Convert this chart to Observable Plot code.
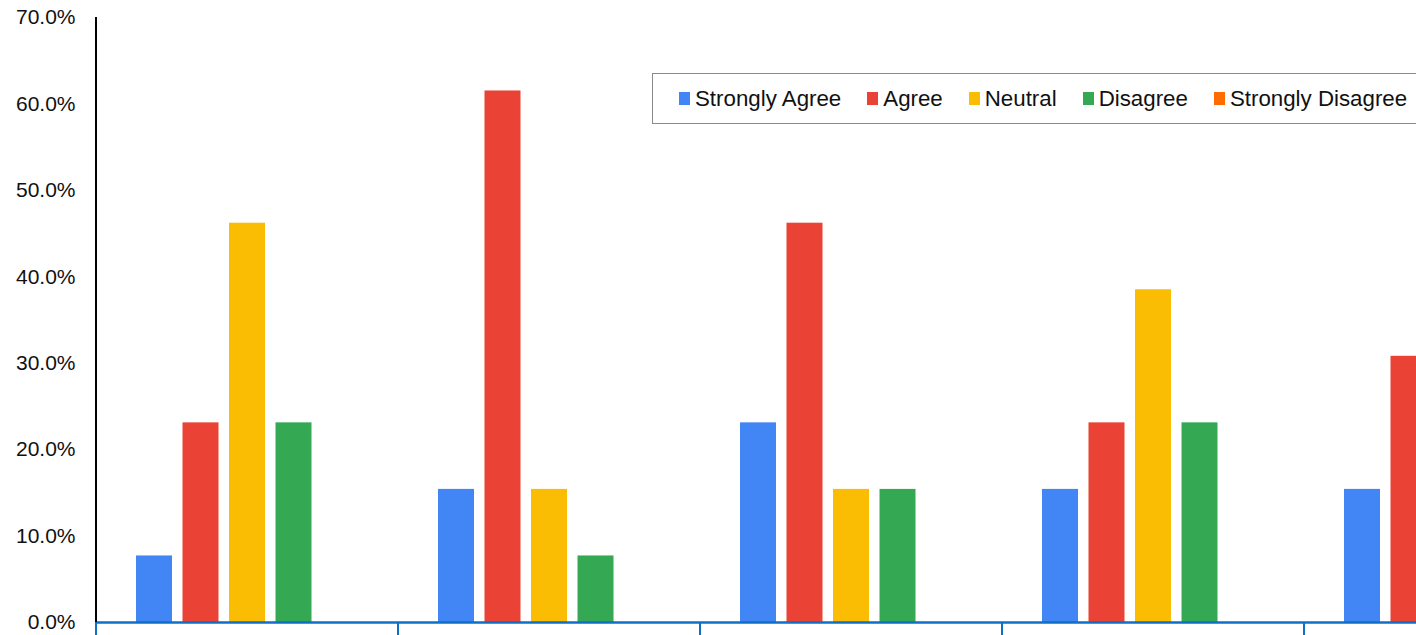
<!DOCTYPE html>
<html>
<head>
<meta charset="utf-8">
<script src="https://cdn.jsdelivr.net/npm/d3@7"></script>
<script src="https://cdn.jsdelivr.net/npm/@observablehq/plot@0.6"></script>
<style>
  html, body { margin: 0; padding: 0; background: #fff; }
  #wrap { position: relative; width: 1416px; height: 635px; overflow: hidden; font-family: "Liberation Sans", Arial, sans-serif; }
  #chart svg { max-width: none !important; display: block; }
  #legend { position: absolute; left: 652px; top: 73px; height: 51px; width: 820px; border: 1.5px solid #8a8a8a; background: #fff;
            display: flex; align-items: center; padding-left: 26px; gap: 26px; box-sizing: border-box; font-size: 22.3px; color: #111; }
  .item { display: flex; align-items: center; white-space: nowrap; }
  .sw { width: 11px; height: 13px; margin-right: 5px; display: inline-block; }
</style>
</head>
<body>
<div id="wrap"><div id="chart"></div><div id="legend"></div></div>
<script>
const categories = ["Q1", "Q2", "Q3", "Q4", "Q5"];
const responses = ["Strongly Agree", "Agree", "Neutral", "Disagree", "Strongly Disagree"];
const stronglyAgree    = [0.077, 0.154, 0.231, 0.154, 0.154];
const agree            = [0.231, 0.615, 0.462, 0.231, 0.308];
const neutral          = [0.462, 0.154, 0.154, 0.385, 0.308];
const disagree         = [0.231, 0.077, 0.154, 0.231, 0.154];
const stronglyDisagree = [0.000, 0.000, 0.000, 0.000, 0.077];
const yTicks = [0, 0.1, 0.2, 0.3, 0.4, 0.5, 0.6, 0.7];
const colors = ["#4285F4", "#EA4335", "#FBBC04", "#34A853", "#FF6D01"];

const series = [stronglyAgree, agree, neutral, disagree, stronglyDisagree];
const data = [];
categories.forEach((c, i) => responses.forEach((r, j) => data.push({category: c, response: r, value: series[j][i]})));

const plot = Plot.plot({
  width: 1606, height: 700,
  marginLeft: 96, marginRight: 0, marginTop: 17, marginBottom: 78,
  style: {fontFamily: "'Liberation Sans', Arial, sans-serif", fontSize: "21px", color: "#111", background: "transparent", maxWidth: "none"},
  fx: {domain: categories, padding: 0, axis: null, round: false},
  x: {domain: responses, paddingInner: 0.226, paddingOuter: 0.86, axis: null, round: false},
  y: {domain: [0, 0.7], axis: null},
  color: {domain: responses, range: colors},
  marks: [
    Plot.barY(data, {fx: "category", x: "response", y: "value", fill: "response"}),
    Plot.axisY({ticks: yTicks, tickFormat: d3.format(".1%"), tickSize: 0, tickPadding: 21, label: null}),
    Plot.ruleY([0], {stroke: "#0F6FC6", strokeWidth: 2.5})
  ]
});
document.getElementById("chart").appendChild(plot);

// axis lines and category boundary ticks from the plot's scales
const fx = plot.scale("fx"), y = plot.scale("y");
const svg = d3.select(plot);
const y0 = y.apply(0), yTop = y.apply(0.7);
const bounds = categories.map(c => fx.apply(c));
bounds.push(bounds[bounds.length - 1] + fx.bandwidth);
svg.append("g").selectAll("line").data(bounds).join("line")
  .attr("x1", d => d).attr("x2", d => d).attr("y1", y0).attr("y2", y0 + 30)
  .attr("stroke", "#0F6FC6").attr("stroke-width", 2);
svg.append("line").attr("x1", bounds[0]).attr("x2", bounds[0]).attr("y1", yTop).attr("y2", y0)
  .attr("stroke", "#000").attr("stroke-width", 2);

// legend
const legend = d3.select("#legend");
responses.forEach((r, i) => {
  const it = legend.append("div").attr("class", "item");
  it.append("span").attr("class", "sw").style("background", colors[i]);
  it.append("span").text(r);
});
</script>
</body>
</html>
